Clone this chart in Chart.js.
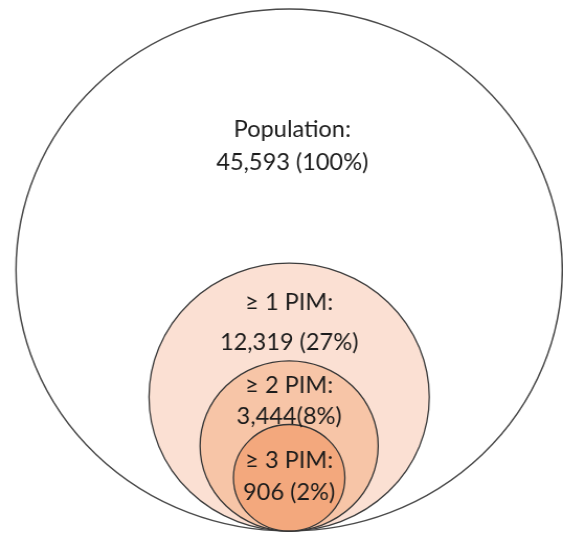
<!DOCTYPE html>
<html>
<head>
<meta charset="utf-8">
<script src="https://cdn.jsdelivr.net/npm/chart.js"></script>
<style>
  html, body { margin: 0; padding: 0; background: #ffffff; overflow: hidden; }
  /* the figure is drawn slightly wider than tall */
  #wrap { width: 538px; height: 534px; transform: scaleX(1.0465); transform-origin: 0 0; }
</style>
</head>
<body>
<div id="wrap"><canvas id="nested" width="538" height="534"></canvas></div>
<script>
// Nested groups, outermost first
const groups = ['Population', '≥ 1 PIM', '≥ 2 PIM', '≥ 3 PIM'];
const counts = [45593, 12319, 3444, 906];
const shares = [100, 27, 8, 2];
const labelLines = [
  ['Population:', '45,593 (100%)'],
  ['≥ 1 PIM:', '12,319 (27%)'],
  ['≥ 2 PIM:', '3,444(8%)'],
  ['≥ 3 PIM:', '906 (2%)']
];
// circle radius in axis units (outer circle = 100); all circles touch the baseline
const radii = [100, 51.3, 32.6, 20.4];

const fills = ['#ffffff', '#fbe0d3', '#f7c5a7', '#f3a87d'];
const strokes = ['#4a4a4a', '#3c3c3c', '#363636', '#363636'];

// label placement: line offsets below each circle's top edge, and horizontal shift (px)
const labelStyle = {
  lineOffsets: [[121, 154], [40, 80], [25, 56], [36, 68]],
  dx: [3, 0, 0, 0],
  font: '22.5px Lato',
  color: '#1c1c1c'
};

const circleLabels = {
  id: 'circleLabels',
  afterDatasetsDraw(chart) {
    const ctx = chart.ctx;
    const meta = chart.getDatasetMeta(0);
    ctx.save();
    ctx.font = labelStyle.font;
    ctx.fillStyle = labelStyle.color;
    ctx.textAlign = 'center';
    ctx.textBaseline = 'middle';
    meta.data.forEach((el, i) => {
      const top = el.y - el.options.radius;
      labelLines[i].forEach((txt, j) => {
        ctx.fillText(txt, el.x + labelStyle.dx[i], top + labelStyle.lineOffsets[i][j]);
      });
    });
    ctx.restore();
  }
};

// radius given in y-axis units, converted to pixels through the scale
function unitRadius(ctx) {
  const s = ctx.chart.scales && ctx.chart.scales.y;
  const r = ctx.raw && ctx.raw.size;
  if (!s || !r) return 0;
  const px = Math.abs(s.getPixelForValue(0) - s.getPixelForValue(r));
  return isFinite(px) ? px : 0;
}

new Chart(document.getElementById('nested'), {
  type: 'scatter',
  data: {
    labels: groups,
    datasets: [{
      label: 'Patients',
      data: groups.map((g, i) => ({ x: 0, y: radii[i], size: radii[i], count: counts[i], share: shares[i] })),
      showLine: false,
      pointBackgroundColor: fills,
      pointBorderColor: strokes,
      pointBorderWidth: [1.5, 1.3, 1.3, 1.3],
      pointRadius: unitRadius,
      pointHoverRadius: unitRadius,
      clip: false
    }]
  },
  options: {
    responsive: false,
    animation: false,
    events: [],
    layout: { autoPadding: false, padding: { left: 0, right: 0, top: 0, bottom: 3 } },
    scales: {
      x: { type: 'linear', display: false, min: -105.86, max: 100.27 },
      y: { type: 'linear', display: false, min: 0, max: 203.45 }
    },
    plugins: { legend: { display: false }, tooltip: { enabled: false } }
  },
  plugins: [circleLabels]
});
</script>
</body>
</html>
